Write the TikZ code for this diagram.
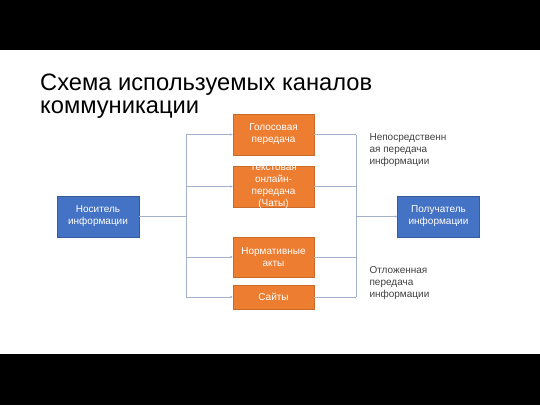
\documentclass[tikz,border=0pt]{standalone}
\usepackage{fontspec}
\setmainfont{Liberation Sans}
\usetikzlibrary{arrows.meta,positioning}
\definecolor{boxorange}{HTML}{ED7D31}
\definecolor{boxblue}{HTML}{4472C4}
\definecolor{linkgray}{HTML}{A3B1CC}
\begin{document}
\begin{tikzpicture}[
    x=1pt,y=-1pt,
    >={Latex[length=2.5pt,width=2.5pt]},
    party/.style={
      rectangle,
      fill=boxblue,
      draw=boxblue!80!black,
      text=white,
      minimum width=82pt,
      minimum height=41pt,
      align=center,
      font=\fontsize{10}{12}\selectfont,
      inner sep=1pt
    },
    channel/.style={
      rectangle,
      fill=boxorange,
      draw=boxorange!85!black,
      text=white,
      minimum width=81pt,
      align=center,
      font=\fontsize{10}{12}\selectfont,
      inner sep=1pt
    },
    overflow/.style={align=center, text=white, inner sep=0pt,
      font=\fontsize{10}{12}\selectfont},
    link/.style={draw=linkgray, line width=0.8pt},
    note/.style={align=left, anchor=west, font=\fontsize{10}{12}\selectfont, text=black!75}
  ]
  \useasboundingbox (0,0) rectangle (540,405);
  \fill[black] (0,0) rectangle (540,50);
  \fill[black] (0,354) rectangle (540,405);
  % title
  \node[anchor=north west, align=left, inner sep=0pt,
        font=\fontsize{23.7}{22.5}\selectfont] (title) at (40,74)
        {Схема используемых каналов\\коммуникации};
  % sender and receiver
  \node[party] (sender) at (98,216.5) {Носитель\\информации};
  \node[party] (receiver) at (438.5,216.5) {Получатель\\информации};
  % channels
  \node[channel, minimum height=41pt] (voice) at (273.5,134.5) {Голосовая\\передача};
  \node[channel, minimum height=41pt] (chat) at (273.5,186.5) {};
  \node[overflow] (chattext) at (chat.center) {Текстовая\\онлайн-\\передача\\(Чаты)};
  \node[channel, minimum height=40pt] (acts) at (273.5,257) {Нормативные\\акты};
  \node[channel, minimum height=24pt] (sites) at (273.5,297) {Сайты};
  % branch points
  \coordinate (split) at (186,216.5);
  \coordinate (join) at (356,216.5);
  \draw[link] (sender.east) -- (split);
  \foreach \ch in {voice,chat,acts,sites} {
    \draw[link,->] (split |- \ch.west) -- (\ch.west);
    \draw[link] (\ch.east) -- (join |- \ch.east);
  }
  \draw[link] (split |- voice.west) -- (split |- sites.west);
  \draw[link] (join |- voice.east) -- (join |- sites.east);
  \draw[link,->] (join) -- (receiver.west);
  % notes
  \node[note] (direct) at (366,150) {Непосредственн\\ая передача\\информации};
  \node[note] (delayed) at (366,283) {Отложенная\\передача\\информации};
\end{tikzpicture}
\end{document}
